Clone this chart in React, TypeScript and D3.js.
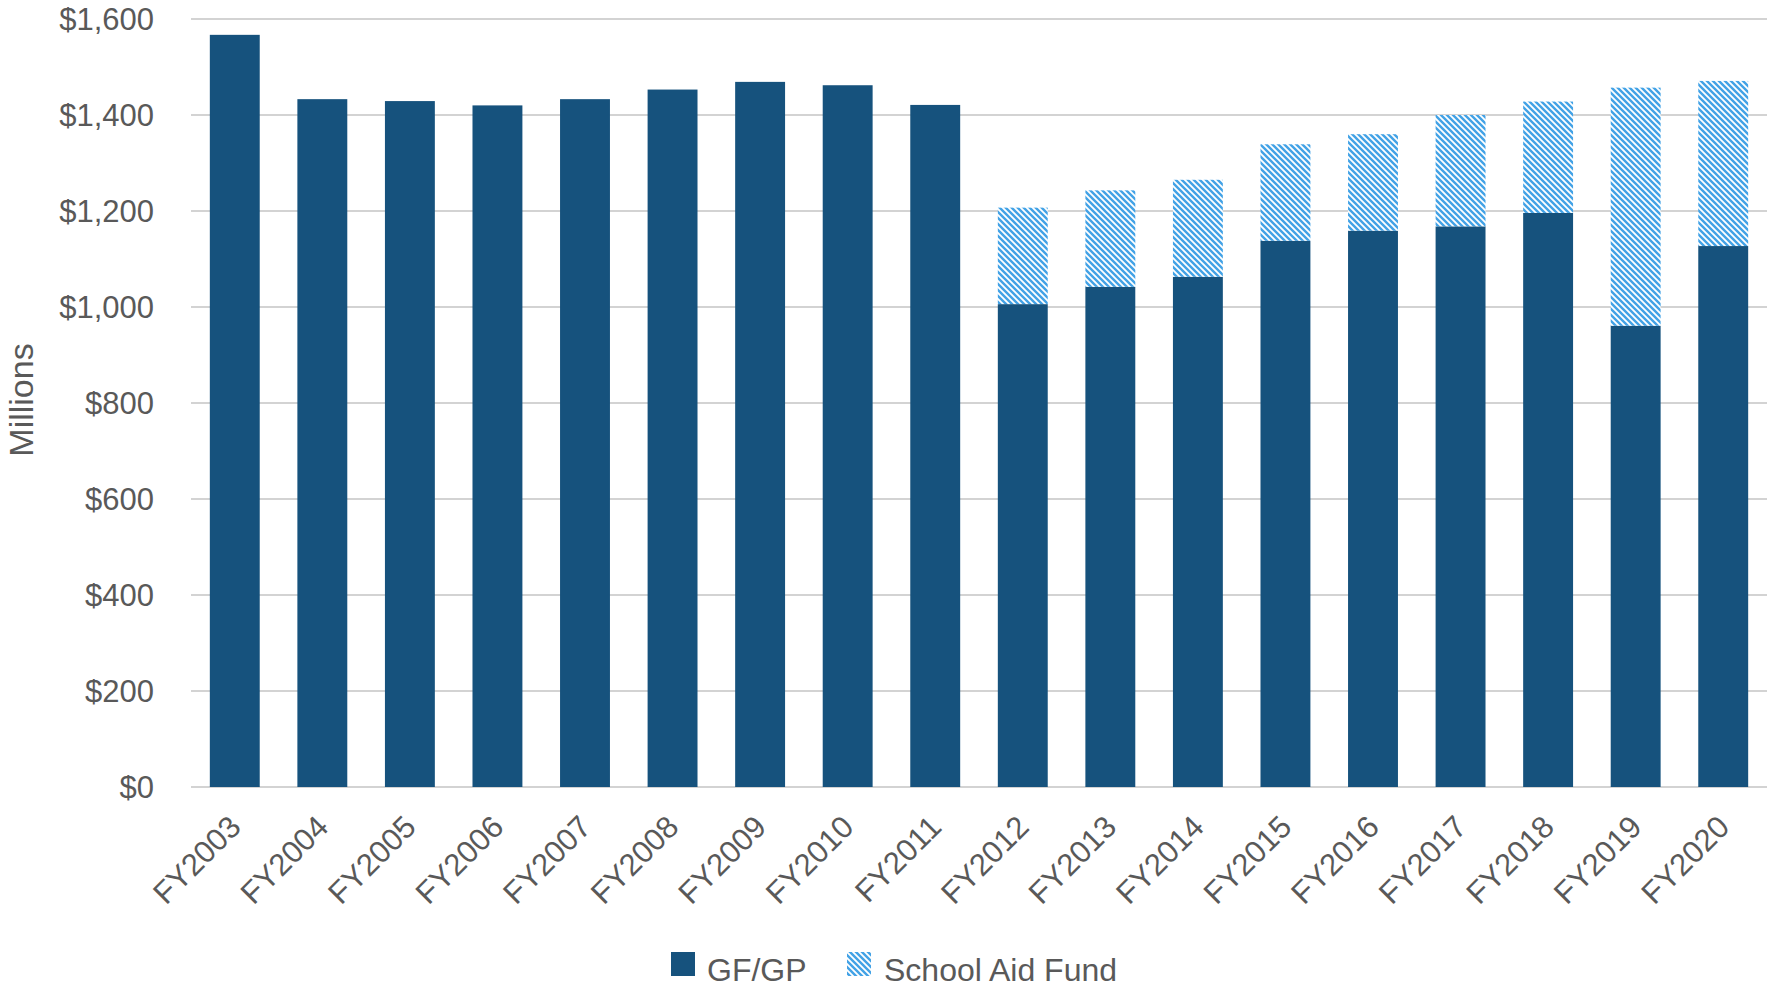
import * as d3 from 'd3';

const years = [
  'FY2003', 'FY2004', 'FY2005', 'FY2006', 'FY2007', 'FY2008', 'FY2009', 'FY2010', 'FY2011',
  'FY2012', 'FY2013', 'FY2014', 'FY2015', 'FY2016', 'FY2017', 'FY2018', 'FY2019', 'FY2020',
];
const gfgp = [1567, 1433, 1429, 1420, 1433, 1453, 1469, 1462, 1421, 1006, 1042, 1063, 1138, 1159, 1168, 1196, 961, 1127];
const schoolAid = [0, 0, 0, 0, 0, 0, 0, 0, 0, 201, 201, 202, 201, 201, 232, 232, 496, 344];
const yTicks = [0, 200, 400, 600, 800, 1000, 1200, 1400, 1600];

const W = 1767;
const H = 987;
const FONT = '"Liberation Sans", Arial, sans-serif';
const TEXT = '#595959';
const NAVY = '#16527D';
const HATCH = '#42A2E6';

export default function App() {
  const x = d3.scaleBand<string>()
    .domain(years)
    .range([191, W])
    .paddingInner(0.43)
    .paddingOuter(0.215);
  const y = d3.scaleLinear().domain([0, 1600]).range([787, 19]);
  const fmt = d3.format('$,');

  const rows = years.map((yr, i) => ({ year: yr, gf: gfgp[i], saf: schoolAid[i] }));
  const stacked = d3.stack<{ year: string; gf: number; saf: number }>().keys(['gf', 'saf'])(rows);

  return (
    <svg width={W} height={H} style={{ position: 'absolute', left: 0, top: 0, background: '#fff' }} fontFamily={FONT}>
      <defs>
        <pattern id="hatch" patternUnits="userSpaceOnUse" width={6} height={6}>
          <rect width={6} height={6} fill="#fff" />
          <path d="M-3,3 L3,9 M0,0 L6,6 M3,-3 L9,3" stroke={HATCH} strokeWidth={2.4} />
        </pattern>
      </defs>

      {/* gridlines */}
      {yTicks.map(t => (
        <line key={t} x1={191} x2={W} y1={y(t)} y2={y(t)} stroke="#c4c4c4" strokeWidth={1.6} />
      ))}

      {/* y tick labels */}
      {yTicks.map(t => (
        <text key={t} x={154} y={y(t)} dy="0.36em" textAnchor="end" fontSize={31} fill={TEXT}>
          {fmt(t)}
        </text>
      ))}

      <text transform="translate(33,400) rotate(-90)" textAnchor="middle" fontSize={34} fill={TEXT}>
        Millions
      </text>

      {/* bars */}
      {stacked.map(s => (
        <g key={s.key}>
          {s.map(d => (d[1] - d[0] > 0 ? (
            <rect
              key={d.data.year}
              x={x(d.data.year)}
              width={x.bandwidth()}
              y={y(d[1])}
              height={y(d[0]) - y(d[1])}
              fill={s.key === 'gf' ? NAVY : 'url(#hatch)'}
            />
          ) : null))}
        </g>
      ))}

      {/* x labels */}
      {years.map(yr => {
        const cx = (x(yr) ?? 0) + x.bandwidth() / 2;
        return (
          <text
            key={yr}
            transform={`translate(${cx},821) rotate(-45)`}
            textAnchor="end"
            dy="0.36em"
            fontSize={31}
            fill={TEXT}
          >
            {yr}
          </text>
        );
      })}

      {/* legend */}
      <rect x={671} y={952} width={24} height={24} fill={NAVY} />
      <text x={707} y={981} fontSize={32} fill={TEXT}>GF/GP</text>
      <rect x={847} y={952} width={24} height={24} fill="url(#hatch)" />
      <text x={884} y={981} fontSize={32} fill={TEXT}>School Aid Fund</text>
    </svg>
  );
}
